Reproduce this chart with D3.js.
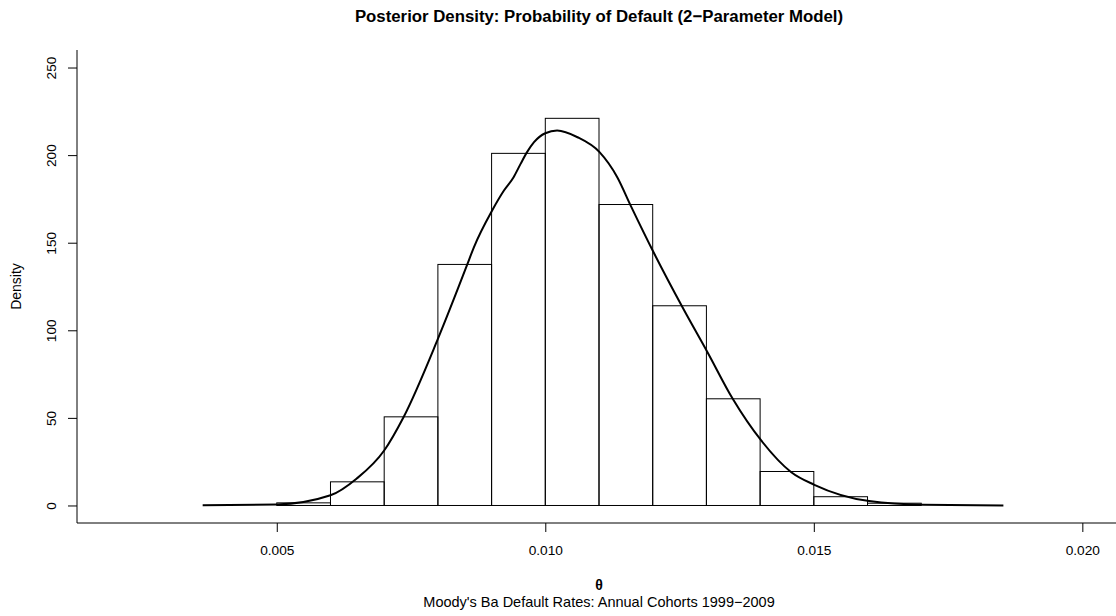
<!DOCTYPE html>
<html>
<head>
<meta charset="utf-8">
<script src="https://cdn.jsdelivr.net/npm/d3@7"></script>
<style>
  body { margin: 0; background: #fff; }
  text { font-family: "Liberation Sans", Arial, sans-serif; }
</style>
</head>
<body>
<script>
// Histogram breaks and densities
var breaks = [0.005, 0.006, 0.007, 0.008, 0.009, 0.010, 0.011, 0.012, 0.013, 0.014, 0.015, 0.016, 0.017];
var densities = [1.5, 13.5, 50.6, 137.6, 201, 221, 171.8, 114, 60.9, 19.4, 5.0, 1.3];

// Kernel density curve points
var curveX = [0.00362, 0.0050, 0.0060, 0.00649, 0.0070, 0.00736, 0.0080, 0.00854, 0.00867,
              0.00901, 0.00923, 0.00941, 0.00954, 0.00966, 0.00979, 0.0100, 0.01022, 0.0106, 0.01101,
              0.01134, 0.01159, 0.01203, 0.01257, 0.01302, 0.01349, 0.01402, 0.01458, 0.01501, 0.01603,
              0.01703, 0.01853];
var curveY = [0.2, 0.6, 5.8, 15.4, 31.4, 50.4, 95.1, 137, 147.4,
              168.4, 179.8, 187.4, 195, 201.7, 207.4, 212.5, 214, 210.2, 201.7,
              187.4, 171.2, 143.7, 112.3, 87.5, 60.9, 37.1, 19, 11.8, 2.5,
              0.4, 0.05];

var xTicks = [0.005, 0.010, 0.015, 0.020];
var yTicks = [0, 50, 100, 150, 200, 250];

var width = 1116, height = 616;
// note: "top" is a reserved window property, so prefix these
var mLeft = 77, mRight = 1121, mTop = 50, mBottom = 523;
var fontFam = '"Liberation Sans", Arial, sans-serif';

var svg = d3.select('body').append('svg')
  .attr('width', width)
  .attr('height', height);

// R style: 4% padding round the limits
var x = d3.scaleLinear().domain([0.00128, 0.02072]).range([mLeft, mRight]);
var y = d3.scaleLinear().domain([-10, 260]).range([mBottom, mTop]);

// Histogram bars
var bars = densities.map(function(d, i) { return {x0: breaks[i], x1: breaks[i + 1], h: d}; });
svg.append('g').selectAll('rect')
  .data(bars)
  .enter().append('rect')
  .attr('x', function(d) { return x(d.x0); })
  .attr('y', function(d) { return y(d.h); })
  .attr('width', function(d) { return x(d.x1) - x(d.x0); })
  .attr('height', function(d) { return y(0) - y(d.h); })
  .attr('fill', 'none')
  .attr('stroke', '#000')
  .attr('stroke-width', 1);

// Density curve
var pts = curveX.map(function(v, i) { return [v, curveY[i]]; });
var line = d3.line()
  .x(function(d) { return x(d[0]); })
  .y(function(d) { return y(d[1]); })
  .curve(d3.curveMonotoneX);
svg.append('path')
  .datum(pts)
  .attr('d', line)
  .attr('fill', 'none')
  .attr('stroke', '#000')
  .attr('stroke-width', 2);

// L shaped frame
svg.append('path')
  .attr('d', 'M' + mLeft + ',' + mTop + 'V' + mBottom + 'H' + mRight)
  .attr('fill', 'none')
  .attr('stroke', '#000')
  .attr('stroke-width', 1);

// Axes
var xAxis = svg.append('g')
  .attr('transform', 'translate(0,' + mBottom + ')')
  .call(d3.axisBottom(x).tickValues(xTicks).tickFormat(d3.format('.3f')).tickSize(9).tickPadding(10));
xAxis.select('.domain').remove();
xAxis.selectAll('text')
  .attr('font-size', '13.7px')
  .attr('font-family', fontFam)
  .attr('fill', '#000')
  .attr('dy', 0)
  .attr('y', 32);

var yAxis = svg.append('g')
  .attr('transform', 'translate(' + mLeft + ',0)')
  .call(d3.axisLeft(y).tickValues(yTicks).tickSize(9).tickPadding(0));
yAxis.select('.domain').remove();
yAxis.selectAll('text')
  .attr('font-size', '13.7px')
  .attr('font-family', fontFam)
  .attr('fill', '#000')
  .attr('text-anchor', 'middle')
  .attr('dy', 0)
  .attr('x', 0)
  .attr('transform', 'translate(-21,0) rotate(-90)');

// Titles
var cx = (mLeft + mRight) / 2;
svg.append('text')
  .attr('x', cx).attr('y', 22)
  .attr('text-anchor', 'middle')
  .attr('font-weight', 'bold')
  .attr('font-size', '16.8px')
  .text('Posterior Density: Probability of Default (2\u2212Parameter Model)');

svg.append('text')
  .attr('x', cx).attr('y', 590)
  .attr('text-anchor', 'middle')
  .attr('font-weight', 'bold')
  .attr('font-size', '14px')
  .text('\u03b8');

svg.append('text')
  .attr('x', cx).attr('y', 607)
  .attr('text-anchor', 'middle')
  .attr('font-size', '14.5px')
  .text('Moody\'s Ba Default Rates: Annual Cohorts 1999\u22122009');

svg.append('text')
  .attr('transform', 'translate(21,' + ((mTop + mBottom) / 2) + ') rotate(-90)')
  .attr('text-anchor', 'middle')
  .attr('font-size', '14px')
  .text('Density');
</script>
</body>
</html>
